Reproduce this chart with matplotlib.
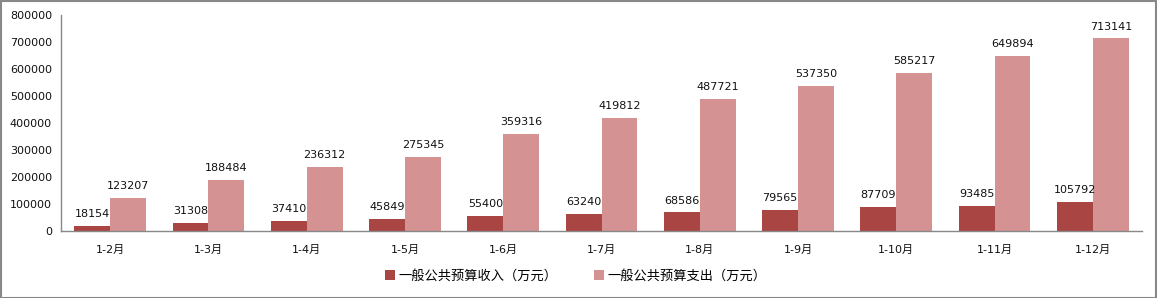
import matplotlib.pyplot as plt
import numpy as np
from matplotlib.patches import Rectangle

plt.rcParams['font.family'] = ['DejaVu Sans', 'Noto Sans CJK SC']

months = ['1-2月', '1-3月', '1-4月', '1-5月', '1-6月', '1-7月', '1-8月', '1-9月', '1-10月', '1-11月', '1-12月']
income = [18154, 31308, 37410, 45849, 55400, 63240, 68586, 79565, 87709, 93485, 105792]
expense = [123207, 188484, 236312, 275345, 359316, 419812, 487721, 537350, 585217, 649894, 713141]

c_in = '#A94644'
c_out = '#D49292'

fig = plt.figure(figsize=(11.57, 2.98), dpi=100)
ax = fig.add_axes([61 / 1157, 1 - 231 / 298, 1081 / 1157, 216 / 298])

x = np.arange(len(months))
w = 0.365
b1 = ax.bar(x - w / 2, income, w, color=c_in, label='一般公共预算收入（万元）')
b2 = ax.bar(x + w / 2, expense, w, color=c_out, label='一般公共预算支出（万元）')

for bars, vals in ((b1, income), (b2, expense)):
    for r, v in zip(bars, vals):
        ax.annotate(str(v), (r.get_x() + r.get_width() / 2, v), xytext=(0, 5),
                    textcoords='offset points', ha='center', va='bottom', fontsize=8, color='#111111')

ax.set_xlim(-0.5, len(months) - 0.5)
ax.set_ylim(0, 800000)
ax.set_yticks(np.arange(0, 800001, 100000))
ax.set_xticks(x)
ax.set_xticklabels(months, family=['DejaVu Sans', 'Noto Sans CJK SC'])
ax.tick_params(axis='both', length=0, labelsize=8, colors='#111111')
ax.tick_params(axis='x', pad=10)
ax.tick_params(axis='y', pad=6.5)
for s in ('top', 'right'):
    ax.spines[s].set_visible(False)
for s in ('left', 'bottom'):
    ax.spines[s].set_color('#888888')
    ax.spines[s].set_linewidth(1)

leg = fig.legend(handles=[b1, b2], loc='center', bbox_to_anchor=(576 / 1157, 1 - 276 / 298),
                 ncol=2, frameon=False, handlelength=0.7, handleheight=0.7,
                 handletextpad=0.3, columnspacing=2.8,
                 prop={'family': ['Noto Sans CJK SC'], 'size': 9.5})

fig.patches.append(Rectangle((0.5 / 1157, 0.5 / 298), 1 - 1.5 / 1157, 1 - 1.5 / 298,
                             transform=fig.transFigure, fill=False, edgecolor='#888888', linewidth=1.5))

fig.savefig('out.png', dpi=100)
